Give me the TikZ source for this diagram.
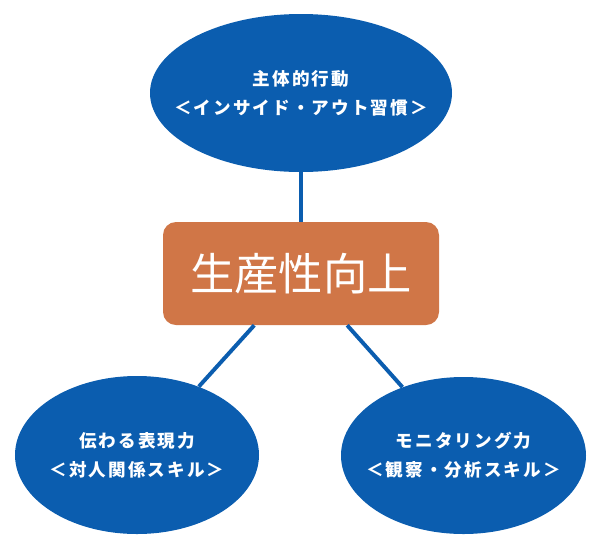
\documentclass[tikz,border=0pt]{standalone}
\usepackage{fontspec}
\setmainfont{Noto Sans CJK JP}
\newfontfamily\jpbold{Noto Sans CJK JP}[LetterSpace=12]
\usepackage{tikz}
\usetikzlibrary{shapes.geometric}

\definecolor{skillblue}{HTML}{0B5DAF}
\definecolor{coreorange}{HTML}{D07647}

\tikzset{
  skill/.style={ellipse, fill=skillblue, inner sep=0pt},
  skilltext/.style={text=white, align=center, inner sep=0pt,
    font=\jpbold\bfseries\fontsize{12.5}{20.5}\selectfont},
  core/.style={rectangle, rounded corners=0.325cm, fill=coreorange, text=white,
    minimum width=6.9cm, minimum height=2.575cm, inner sep=0pt,
    font=\fontsize{31.5}{32}\selectfont},
  link/.style={draw=skillblue, line width=2.8pt}
}

\begin{document}
\begin{tikzpicture}

\useasboundingbox (0,0) rectangle (15,-13.725);

% Center box
\node[core] (prod) at (7.525,-6.8375) {生産性向上};

% Top ellipse
\node[skill, minimum width=7.55cm, minimum height=3.95cm,
  label={[skilltext]center:主体的行動\\＜インサイド・アウト習慣＞}]
  (inside) at (7.525,-2.325) {};

% Bottom ellipses
\node[skill, minimum width=6.1cm, minimum height=3.95cm,
  label={[skilltext]center:伝わる表現力\\＜対人関係スキル＞}]
  (express) at (3.425,-11.375) {};
\node[skill, minimum width=6.125cm, minimum height=3.925cm,
  label={[skilltext]center:モニタリング力\\＜観察・分析スキル＞}]
  (monitor) at (11.5875,-11.3875) {};

% Links
\draw[link] (inside) -- (prod);
\draw[link] (prod) -- (express);
\draw[link] (prod) -- (monitor);

\end{tikzpicture}
\end{document}
